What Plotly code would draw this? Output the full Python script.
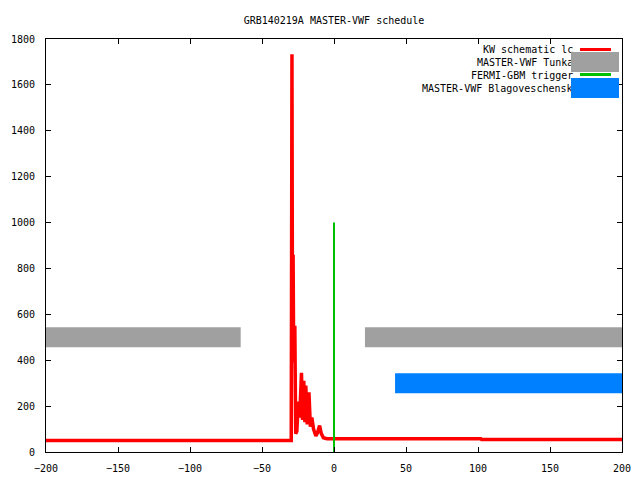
import plotly.graph_objects as go

# KW schematic light curve (time s, counts)
kw_t = [-200, -29.7, -29.5, -29.2, -28.8, -28.4, -28.0, -27.2, -26.6, -25.8, -24.8, -23.8,
        -22.6, -21.8, -21.0, -20.2, -19.6, -18.6, -17.4, -16.4, -15.4, -14.2, -12.6,
        -11.4, -10.0, -8.8, -7.4, -5.0, 102.0, 102.5, 200]
kw_v = [50, 50, 660, 1733, 390, 860, 400, 550, 80, 90, 220, 150,
        345, 140, 310, 130, 290, 120, 260, 110, 150, 100, 70,
        85, 115, 80, 62, 58, 58, 54, 54]

# MASTER-VWF Tunka observing intervals (start, end) and level
tunka_intervals = [(-203.5, -64.8), (21.5, 206.3)]
tunka_level = 500

# MASTER-VWF Blagoveschensk observing interval
blago_intervals = [(42.4, 206.3)]
blago_level = 300

# FERMI-GBM trigger
fermi_t = [0, 0]
fermi_v = [0, 1000]

x_ticks = [-200, -150, -100, -50, 0, 50, 100, 150, 200]
y_ticks = [0, 200, 400, 600, 800, 1000, 1200, 1400, 1600, 1800]

FONT = "DejaVu Sans Mono"
RED = "#ff0000"
GRAY = "#a0a0a0"
GREEN = "#00c000"
BLUE = "#0080ff"

fig = go.Figure()
fig.add_trace(go.Scatter(x=kw_t, y=kw_v, mode="lines",
                         line=dict(color=RED, width=3.5), name="KW schematic lc"))
for a, b in tunka_intervals:
    fig.add_trace(go.Scatter(x=[a, b], y=[tunka_level, tunka_level], mode="lines",
                             line=dict(color=GRAY, width=20), cliponaxis=False,
                             name="MASTER-VWF Tunka"))
fig.add_trace(go.Scatter(x=fermi_t, y=fermi_v, mode="lines",
                         line=dict(color=GREEN, width=2), name="FERMI-GBM trigger"))
for a, b in blago_intervals:
    fig.add_trace(go.Scatter(x=[a, b], y=[blago_level, blago_level], mode="lines",
                             line=dict(color=BLUE, width=20), cliponaxis=False,
                             name="MASTER-VWF Blagoveschensk"))

# plot area in pixels
L, R, T, B = 46, 622, 39, 452
W, H = R - L, B - T

def px(x):
    return (x - L) / W

def py(y):
    return (B - y) / H

legend_rows = [
    ("KW schematic lc", 50.0, RED, 31, 3, 595.5, 49.3),
    ("MASTER-VWF Tunka", 62.7, GRAY, 48, 20, 595.0, 61.7),
    ("FERMI-GBM trigger", 75.7, GREEN, 31, 3, 595.5, 74.7),
    ("MASTER-VWF Blagoveschensk", 88.3, BLUE, 48, 20, 595.0, 87.7),
]
annotations = []
for text, ty, *_ in legend_rows:
    annotations.append(dict(text=text, xref="paper", yref="paper", x=px(575), y=py(ty),
                            xanchor="right", yanchor="middle", showarrow=False,
                            font=dict(family=FONT, size=10, color="black")))
for text, ty, col, w, h, cx, cy in legend_rows:
    annotations.append(dict(text=" ", xref="paper", yref="paper", x=px(cx), y=py(cy),
                            xanchor="center", yanchor="middle", showarrow=False,
                            width=w, height=h, bgcolor=col, borderpad=0, borderwidth=0,
                            font=dict(family=FONT, size=1)))

axis_common = dict(showline=True, linecolor="black", linewidth=1, mirror="ticks",
                   ticks="inside", ticklen=5, tickcolor="black", tickwidth=1,
                   showgrid=False, zeroline=False, automargin=False,
                   tickfont=dict(family=FONT, size=10, color="black"))

fig.update_layout(
    width=640, height=480,
    margin=dict(l=L, r=640 - R, t=T, b=480 - B),
    paper_bgcolor="white", plot_bgcolor="white",
    showlegend=False,
    title=dict(text="GRB140219A MASTER-VWF schedule", x=334 / 640,
               xanchor="center", y=1 - 20 / 480, yanchor="middle",
               font=dict(family=FONT, size=10, color="black")),
    xaxis=dict(range=[-200, 200], tickvals=x_ticks, ticklabelstandoff=7, **axis_common),
    yaxis=dict(range=[0, 1800], tickvals=y_ticks, ticklabelstandoff=8, **axis_common),
    annotations=annotations,
)

fig.write_html("out.html", config={"displayModeBar": False},
               post_script="document.body.style.margin='0';document.body.style.overflow='hidden';")
